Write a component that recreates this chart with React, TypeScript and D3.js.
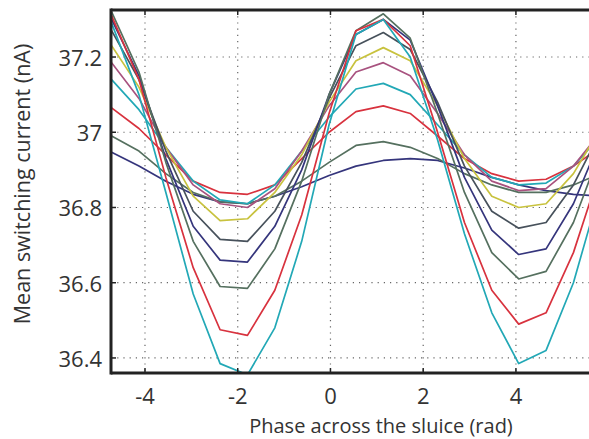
import React from "react";
import * as d3 from "d3";

// Phase sample points (rad)
const phases = [-4.72, -4.13, -3.55, -2.96, -2.38, -1.79, -1.2, -0.62, -0.03, 0.55, 1.14, 1.72, 2.31, 2.89, 3.48, 4.06, 4.65, 5.24, 5.82];

const seriesColors = ["#35357c", "#55705f", "#d8323e", "#22a8b6", "#a8527f", "#c8c23e", "#47515b", "#35357c", "#55705f", "#d8323e", "#22a8b6"];

const s1 = [36.947, 36.91, 36.87, 36.835, 36.815, 36.81, 36.83, 36.855, 36.885, 36.91, 36.925, 36.93, 36.925, 36.905, 36.88, 36.86, 36.845, 36.835, 36.83];
const s2 = [36.99, 36.95, 36.89, 36.84, 36.815, 36.81, 36.83, 36.87, 36.92, 36.965, 36.975, 36.96, 36.93, 36.89, 36.86, 36.84, 36.84, 36.86, 36.89];
const s3 = [37.065, 37.01, 36.94, 36.87, 36.84, 36.835, 36.86, 36.93, 37.0, 37.055, 37.07, 37.05, 36.99, 36.93, 36.89, 36.87, 36.875, 36.91, 36.96];
const s4 = [37.14, 37.06, 36.96, 36.87, 36.82, 36.81, 36.86, 36.95, 37.04, 37.115, 37.13, 37.1, 37.02, 36.94, 36.88, 36.86, 36.865, 36.91, 36.99];
const s5 = [37.185, 37.09, 36.96, 36.86, 36.81, 36.8, 36.85, 36.95, 37.07, 37.16, 37.185, 37.15, 37.05, 36.94, 36.87, 36.845, 36.85, 36.91, 37.0];
const s6 = [37.23, 37.12, 36.96, 36.83, 36.765, 36.77, 36.84, 36.94, 37.08, 37.19, 37.225, 37.19, 37.07, 36.93, 36.83, 36.8, 36.81, 36.89, 37.01];
const s7 = [37.27, 37.14, 36.95, 36.79, 36.715, 36.71, 36.79, 36.92, 37.09, 37.23, 37.265, 37.22, 37.08, 36.91, 36.79, 36.745, 36.76, 36.86, 37.0];
const s8 = [37.3, 37.15, 36.93, 36.75, 36.66, 36.655, 36.75, 36.9, 37.1, 37.26, 37.3, 37.245, 37.07, 36.88, 36.74, 36.675, 36.69, 36.81, 36.98];
const s9 = [37.32, 37.16, 36.92, 36.71, 36.59, 36.585, 36.69, 36.87, 37.1, 37.27, 37.315, 37.25, 37.05, 36.84, 36.68, 36.61, 36.63, 36.76, 36.95];
const s10 = [37.31, 37.14, 36.88, 36.64, 36.475, 36.46, 36.58, 36.78, 37.05, 37.27, 37.3, 37.23, 37.0, 36.76, 36.58, 36.49, 36.52, 36.68, 36.9];
const s11 = [37.29, 37.1, 36.84, 36.57, 36.385, 36.355, 36.48, 36.71, 37.02, 37.26, 37.3, 37.2, 36.98, 36.73, 36.52, 36.385, 36.42, 36.6, 36.85];

const allSeries = [s1, s2, s3, s4, s5, s6, s7, s8, s9, s10, s11];

const xTicks = [-4, -2, 0, 2, 4];
const yTicks = [36.4, 36.6, 36.8, 37, 37.2];
const yTickLabels = ["36.4", "36.6", "36.8", "37", "37.2"];

const W = 589;
const H = 439;
const L = 111;
const T = 10;
const B = 373;
const R = 589;

export default function App() {
  const x = d3.scaleLinear().domain([-4.733, 5.576]).range([L, R]);
  const y = d3.scaleLinear().domain([36.36, 37.325]).range([B, T]);
  const line = d3
    .line<number>()
    .x((_, i) => x(phases[i]))
    .y((d) => y(d));
  const font = "'Open Sans', 'Noto Sans', sans-serif";

  return (
    <svg
      width={W}
      height={H}
      style={{ position: "absolute", left: 0, top: 0, background: "#fff" }}
    >
      <defs>
        <clipPath id="plotclip">
          <rect x={L} y={T} width={R - L} height={B - T} />
        </clipPath>
      </defs>
      <rect x={0} y={0} width={W} height={H} fill="#fff" />
      {/* grid */}
      <g stroke="#666" strokeWidth={1.2} strokeDasharray="1.2,5">
        {xTicks.map((t) => (
          <line key={"gx" + t} x1={x(t)} x2={x(t)} y1={T} y2={B} />
        ))}
        {yTicks.map((t) => (
          <line key={"gy" + t} x1={L} x2={R} y1={y(t)} y2={y(t)} />
        ))}
      </g>
      {/* series */}
      <g clipPath="url(#plotclip)" fill="none" strokeWidth={1.7} strokeLinejoin="round">
        {allSeries.map((s, i) => (
          <path key={"s" + i} d={line(s) || ""} stroke={seriesColors[i]} />
        ))}
      </g>
      {/* ticks */}
      <g stroke="#222" strokeWidth={1.5}>
        {xTicks.map((t) => (
          <g key={"tx" + t}>
            <line x1={x(t)} x2={x(t)} y1={B} y2={B - 5} />
            <line x1={x(t)} x2={x(t)} y1={T} y2={T + 5} />
          </g>
        ))}
        {yTicks.map((t) => (
          <line key={"ty" + t} x1={L} x2={L + 5} y1={y(t)} y2={y(t)} />
        ))}
      </g>
      {/* axes frame */}
      <g stroke="#222" strokeWidth={3} fill="none">
        <line x1={L} x2={L} y1={T - 1.5} y2={B + 1.5} />
        <line x1={L} x2={R} y1={B} y2={B} />
        <line x1={L} x2={R} y1={T} y2={T} />
      </g>
      {/* tick labels */}
      <g fontFamily={font} fontSize={22} fill="#333">
        {yTicks.map((t, i) => (
          <text key={"ly" + t} x={L - 9} y={y(t)} textAnchor="end" dominantBaseline="central">
            {yTickLabels[i]}
          </text>
        ))}
        {xTicks.map((t) => (
          <text key={"lx" + t} x={x(t)} y={B + 31} textAnchor="middle">
            {t}
          </text>
        ))}
      </g>
      <text
        x={381}
        y={433}
        textAnchor="middle"
        fontFamily={font}
        fontSize={20}
        fill="#333"
      >
        Phase across the sluice (rad)
      </text>
      <text
        transform={`translate(30, 184) rotate(-90)`}
        textAnchor="middle"
        fontFamily={font}
        fontSize={21.5}
        fill="#333"
      >
        Mean switching current (nA)
      </text>
    </svg>
  );
}
